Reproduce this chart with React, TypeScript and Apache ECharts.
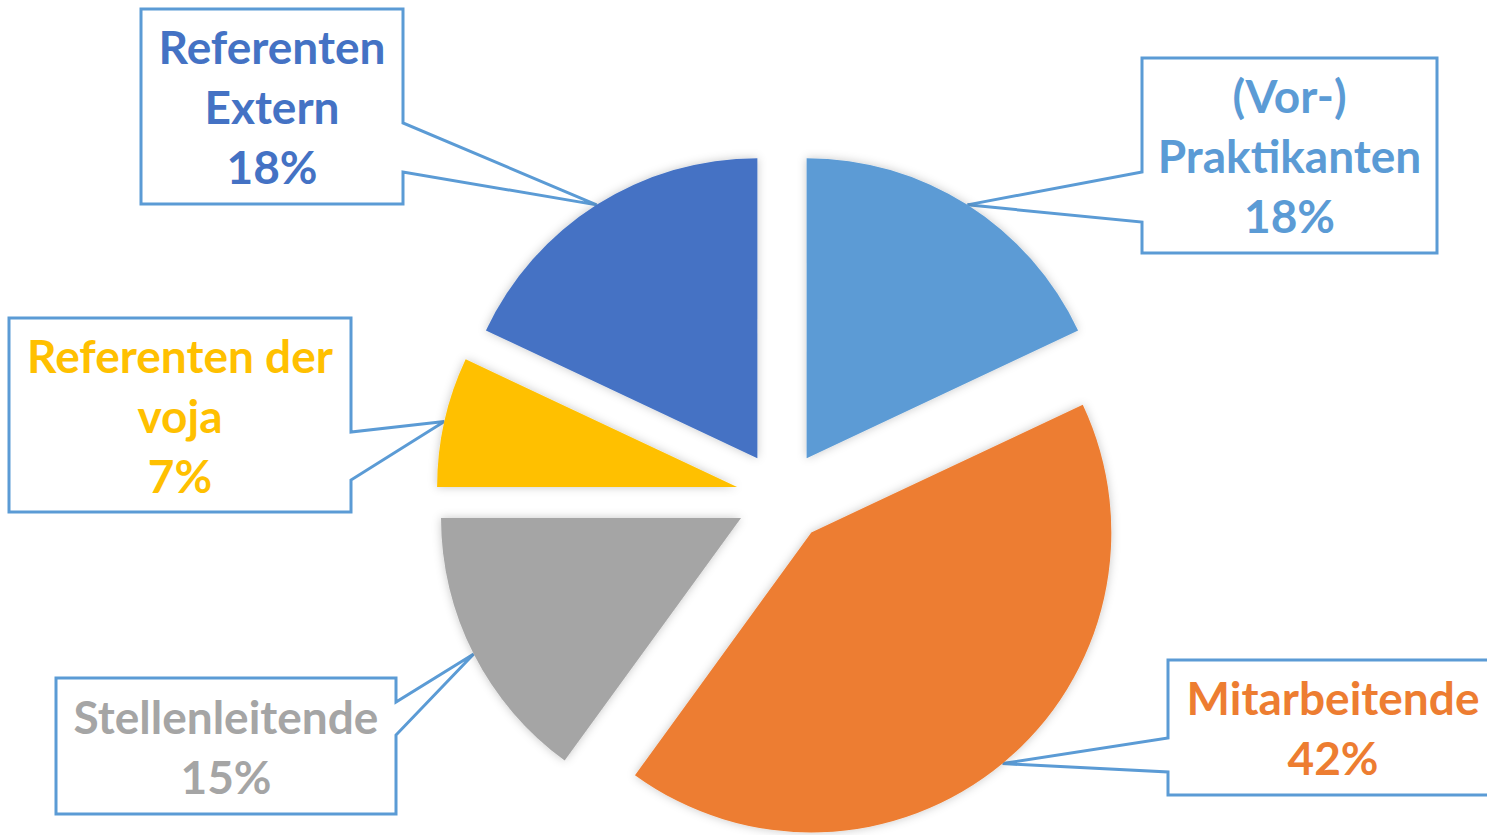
import React, { useEffect, useRef } from "react";
import * as echarts from "echarts";

// ---- data ----
const categories = [
  "(Vor-) Praktikanten",
  "Mitarbeitende",
  "Stellenleitende",
  "Referenten der voja",
  "Referenten Extern",
];
const labelTexts = [
  ["(Vor-)", "Praktikanten"],
  ["Mitarbeitende"],
  ["Stellenleitende"],
  ["Referenten der", "voja"],
  ["Referenten", "Extern"],
];
const shares = [18, 42, 15, 7, 18];
const colors = ["#5B9BD5", "#ED7D31", "#A5A5A5", "#FFC000", "#4472C4"];

// ---- layout ----
const CENTER = [782, 497];
const RADIUS = 300;
const OFFSET = 46;
const CALLOUT_COLOR = "#5B9BD5";
// callout boxes: [x, y, w, h]
const boxes = [
  [1142, 58, 295, 195],
  [1168, 660, 330, 135],
  [56, 678, 340, 136],
  [9, 318, 342, 194],
  [141, 9, 262, 195],
];
// pointer base on box side: [edgeX, y1, y2]
const pointerBase = [
  [1142, 172, 222],
  [1168, 738, 772],
  [396, 702, 735],
  [351, 432, 480],
  [403, 123, 172],
];

function buildCallouts() {
  const total = shares.reduce((a, b) => a + b, 0);
  let acc = 0;
  const els: any[] = [];
  shares.forEach((v, i) => {
    const start = (acc / total) * 360;
    acc += v;
    const end = (acc / total) * 360;
    const mid = (((start + end) / 2) * Math.PI) / 180;
    const dist = RADIUS + OFFSET;
    const ax = CENTER[0] + Math.sin(mid) * dist;
    const ay = CENTER[1] - Math.cos(mid) * dist;
    const [x, y, w, h] = boxes[i];
    const [ex, y1, y2] = pointerBase[i];
    let pts: number[][];
    if (ex === x) {
      pts = [
        [x, y],
        [x + w, y],
        [x + w, y + h],
        [x, y + h],
        [x, y2],
        [ax, ay],
        [x, y1],
      ];
    } else {
      pts = [
        [x, y],
        [x + w, y],
        [x + w, y1],
        [ax, ay],
        [x + w, y2],
        [x + w, y + h],
        [x, y + h],
      ];
    }
    els.push({
      type: "polygon",
      z: 1,
      silent: true,
      shape: { points: pts },
      style: { fill: "#ffffff", stroke: CALLOUT_COLOR, lineWidth: 3, lineJoin: "miter" },
    });
    const pct = Math.round((v / total) * 100);
    els.push({
      type: "text",
      z: 3,
      silent: true,
      x: x + w / 2,
      y: y + h / 2,
      style: {
        text: [...labelTexts[i], pct + "%"].join("\n"),
        fill: colors[i],
        fontFamily: "Lato",
        fontWeight: "bold",
        fontSize: 46,
        lineHeight: 60,
        align: "center",
        verticalAlign: "middle",
      },
    });
  });
  return els;
}

export default function App() {
  const ref = useRef<HTMLDivElement>(null);
  useEffect(() => {
    if (!ref.current) return;
    const chart = echarts.init(ref.current, undefined, { renderer: "svg" });
    const option: any = {
      animation: false,
      backgroundColor: "#ffffff",
      graphic: buildCallouts(),
      series: [
        {
          type: "pie",
          z: 2,
          center: CENTER,
          radius: RADIUS,
          startAngle: 90,
          clockwise: true,
          selectedMode: "multiple",
          selectedOffset: OFFSET,
          avoidLabelOverlap: false,
          emphasis: { disabled: true },
          select: { itemStyle: { borderWidth: 0 } },
          itemStyle: {
            borderWidth: 0,
            shadowBlur: 10,
            shadowColor: "rgba(0,0,0,0.22)",
          },
          label: { show: false },
          labelLine: { show: false },
          data: categories.map((name, i) => ({
            name,
            value: shares[i],
            selected: true,
            itemStyle: { color: colors[i] },
            select: { itemStyle: { color: colors[i] } },
          })),
        },
      ],
    };
    chart.setOption(option);
    return () => chart.dispose();
  }, []);
  return (
    <div
      ref={ref}
      style={{ position: "absolute", left: 0, top: 0, width: 1487, height: 835 }}
    />
  );
}
